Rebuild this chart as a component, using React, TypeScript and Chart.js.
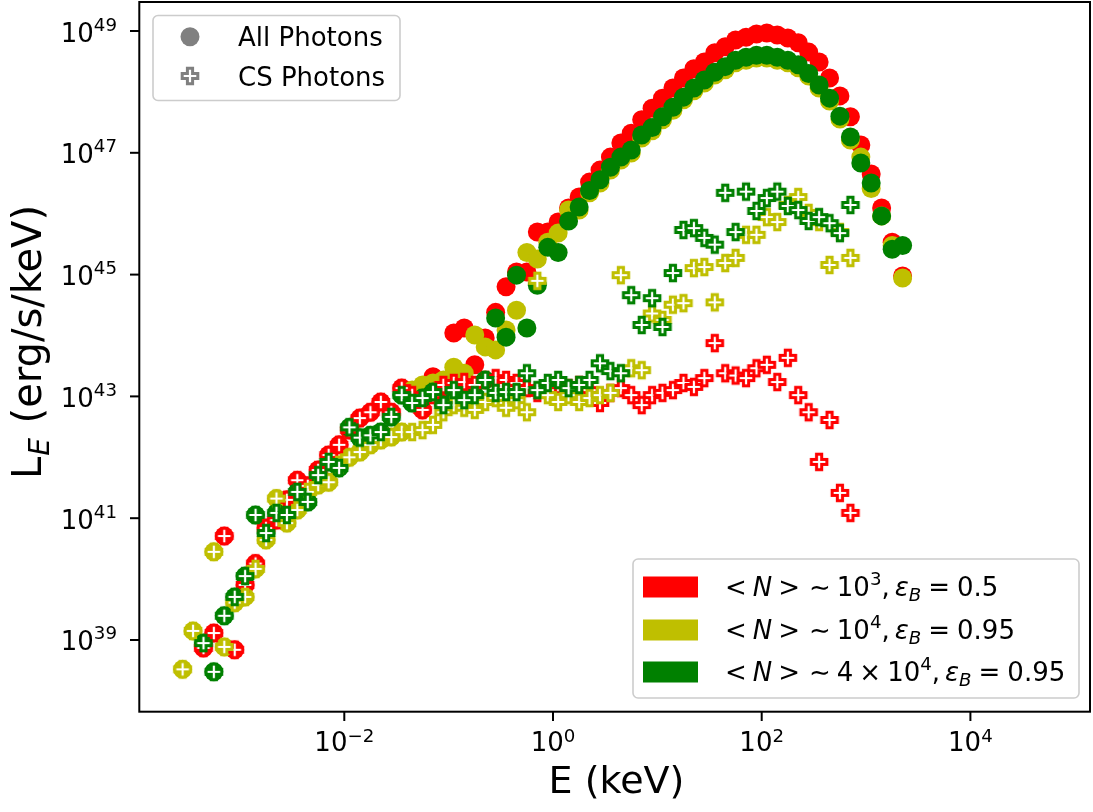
import React, { useEffect, useRef } from "react";
import { Chart, registerables } from "chart.js";

Chart.register(...registerables);

// ---------- data ----------
// photon energy bins in keV
const energyKeV = [
  2.82e-4, 3.55e-4, 4.47e-4, 5.62e-4, 7.08e-4, 8.91e-4,
  1.12e-3, 1.41e-3, 1.78e-3, 2.24e-3, 2.82e-3, 3.55e-3, 4.47e-3, 5.62e-3, 7.08e-3, 8.91e-3,
  1.12e-2, 1.41e-2, 1.78e-2, 2.24e-2, 2.82e-2, 3.55e-2, 4.47e-2, 5.62e-2, 7.08e-2, 8.91e-2,
  0.112, 0.141, 0.178, 0.224, 0.282, 0.355, 0.447, 0.562, 0.708, 0.891,
  1.12, 1.41, 1.78, 2.24, 2.82, 3.55, 4.47, 5.62, 7.08, 8.91,
  11.2, 14.1, 17.8, 22.4, 28.2, 35.5, 44.7, 56.2, 70.8, 89.1,
  112, 141, 178, 224, 282, 355, 447, 562, 708, 891,
  1120, 1410, 1780, 2240,
];

// <N> ~ 1e3, eps_B = 0.5  (red)
const allRed = [
  null, null, 7.4e38, 1.3e39, 5.1e40, 6.9e38,
  8.0e39, 1.8e40, 6.9e40, 9.3e40, 2.0e41, 4.2e41, 3.4e41, 6.2e41, 1.09e42, 1.6e42,
  2.8e42, 4.4e42, 5.5e42, 8.1e42, 5.5e42, 1.37e43, 1.05e43, 6.0e42, 2.1e43, 1.27e43,
  1.1e44, 1.33e44, 3.3e43, 9.1e43, 2.4e44, 6.3e44, 1.1e45, 1.1e45, 5.0e45, 5.0e45,
  7.3e45, 1.24e46, 1.88e46, 3.3e46, 5.2e46, 8.5e46, 1.45e47, 2.1e47, 3.5e47, 5.4e47,
  7.9e47, 1.16e48, 1.69e48, 2.4e48, 3.1e48, 4.4e48, 5.5e48, 7.1e48, 7.9e48, 8.9e48,
  9.3e48, 8.6e48, 7.7e48, 6.4e48, 4.5e48, 3.1e48, 1.69e48, 8.6e47, 3.9e47, 1.34e47,
  4.5e46, 1.24e46, 3.4e45, 9.5e44,
];
const csRed = [
  null, null, 7.4e38, 1.3e39, 5.1e40, 6.9e38,
  8.0e39, 1.8e40, 6.9e40, 9.3e40, 2.0e41, 4.2e41, 3.4e41, 6.2e41, 1.09e42, 1.6e42,
  2.8e42, 4.4e42, 5.5e42, 8.1e42, 5.5e42, 1.37e43, 1.05e43, 6.0e42, 1.05e43, 1.54e43,
  1.66e43, 1.72e43, 1.54e43, 1.86e43, 2.0e43, 1.86e43, 1.66e43, 1.37e43, 1.14e43, 1.27e43,
  1.54e43, 1.37e43, 1.54e43, 1.27e43, 7.8e42, 1.14e43, 1.37e43, 1.05e43, 7.2e42, 1.05e43,
  1.14e43, 1.27e43, 1.66e43, 1.43e43, 2.0e43, 7.5e43, 2.4e43, 2.2e43, 2.0e43, 2.9e43,
  3.3e43, 1.72e43, 4.3e43, 1.05e43, 5.5e42, 8.4e41, 4.1e42, 2.6e41, 1.22e41, null,
  null, null, null, null,
];

// <N> ~ 1e4, eps_B = 0.95  (yellow)
const allYellow = [
  3.3e38, 1.41e39, null, 2.8e40, 7.7e38, 4.1e39,
  5.1e39, 1.47e40, 4.4e40, 2.1e41, 8.3e40, 1.36e41, 2.7e41, 3.5e41, 3.9e41, 7.5e41,
  1.0e42, 1.22e42, 1.6e42, 1.92e42, 2.15e42, 2.6e42, 1.27e43, 1.54e43, 1.66e43, 1.86e43,
  3.0e43, 2.4e43, 1.02e44, 6.5e43, 5.8e43, 1.23e44, 2.6e44, 2.3e45, 1.8e45, 3.4e45,
  4.8e45, 1.15e46, 1.15e46, 2.2e46, 3.2e46, 5.2e46, 7.6e46, 9.9e46, 1.75e47, 2.3e47,
  3.5e47, 5.0e47, 7.4e47, 1.04e48, 1.4e48, 1.9e48, 2.3e48, 3.0e48, 3.3e48, 3.6e48,
  3.6e48, 3.3e48, 3.0e48, 2.5e48, 1.82e48, 1.16e48, 7.1e47, 3.6e47, 1.62e47, 8.5e46,
  2.6e46, 9.2e45, 3.0e45, 8.8e44,
];
const csYellow = [
  3.3e38, 1.41e39, null, 2.8e40, 7.7e38, 4.1e39,
  5.1e39, 1.47e40, 4.4e40, 2.1e41, 8.3e40, 1.36e41, 2.7e41, 3.5e41, 3.9e41, 7.5e41,
  1.0e42, 1.22e42, 1.6e42, 1.92e42, 2.15e42, 2.6e42, 2.6e42, 2.8e42, 3.4e42, 5.5e42,
  7.2e42, 6.5e42, 6.0e42, 8.1e42, 9.4e42, 6.5e42, 8.7e42, 5.5e42, 7.9e44, 1.05e43,
  8.1e42, 1.05e43, 8.1e42, 9.4e42, 1.05e43, 1.14e43, 9.8e44, 2.9e43, 2.7e43, 2.3e44,
  1.8e44, 3.2e44, 3.4e44, 1.28e45, 1.33e45, 3.5e44, 1.55e45, 1.88e45, 4.5e45, 4.5e45,
  8.8e45, 7.3e45, 1.39e46, 1.88e46, 1.03e46, 7.3e45, 1.44e45, 5.0e45, 1.88e45, null,
  null, null, null, null,
];

// <N> ~ 4e4, eps_B = 0.95  (green)
const allGreen = [
  null, null, 8.9e38, 3.0e38, 2.5e39, 5.1e39,
  1.12e40, 1.13e41, 5.7e40, 1.22e41, 1.13e41, 2.7e41, 1.85e41, 5.1e41, 8.4e41, 6.7e41,
  3.1e42, 2.1e42, 2.3e42, 2.6e42, 4.6e42, 1.05e43, 7.8e42, 9.4e42, 1.18e43, 7.2e42,
  1.27e43, 8.7e42, 1.05e43, 1.86e43, 1.94e44, 9.4e43, 9.8e44, 1.33e44, 6.7e44, 2.8e45,
  2.3e45, 7.6e45, 1.29e46, 2.4e46, 3.6e46, 5.8e46, 8.5e46, 1.11e47, 1.96e47, 2.6e47,
  3.9e47, 5.6e47, 8.2e47, 1.16e48, 1.57e48, 2.1e48, 2.6e48, 3.3e48, 3.7e48, 4.0e48,
  4.0e48, 3.7e48, 3.3e48, 2.8e48, 2.0e48, 1.3e48, 7.9e47, 4.0e47, 1.82e47, 6.8e46,
  3.2e46, 9.2e45, 2.6e45, 3.0e45,
];
const csGreen = [
  null, null, 8.9e38, 3.0e38, 2.5e39, 5.1e39,
  1.12e40, 1.13e41, 5.7e40, 1.22e41, 1.13e41, 2.7e41, 1.85e41, 5.1e41, 8.4e41, 6.7e41,
  3.1e42, 2.1e42, 2.3e42, 2.6e42, 4.6e42, 1.05e43, 7.8e42, 9.4e42, 1.18e43, 7.2e42,
  1.27e43, 8.7e42, 1.05e43, 1.86e43, 1.14e43, 1.18e43, 1.18e43, 2.4e43, 1.27e43, 1.66e43,
  1.86e43, 1.37e43, 1.54e43, 1.86e43, 3.5e43, 2.6e43, 2.4e43, 4.6e44, 1.49e44, 4.1e44,
  1.38e44, 1.06e45, 5.4e45, 5.8e45, 4.0e45, 3.1e45, 2.2e46, 5.0e45, 2.3e46, 1.11e46,
  1.81e46, 2.3e46, 1.34e46, 1.15e46, 7.6e45, 8.8e45, 7.0e45, 4.8e45, 1.39e46, null,
  null, null, null, null,
];

// axes
const xMin = 1.078e-4;
const xMax = 1.4e5;
const yMin = 6.57e37;
const yMax = 2.994e49;
const xTickValues = [1e-2, 1, 1e2, 1e4];
const xTickExponents = ["\u22122", "0", "2", "4"];
const yTickValues = [1e39, 1e41, 1e43, 1e45, 1e47, 1e49];
const yTickExponents = ["39", "41", "43", "45", "47", "49"];

const modelColors = ["#ff0000", "#bfbf00", "#008000"];
const legendMarkerColor = "#808080";

type Run = { t: string; s?: number; it?: boolean; dy?: number; gap?: number };

const modelLabels: Run[][] = [
  [
    { t: "<" }, { t: "N", it: true, gap: 6 }, { t: ">", gap: 6 }, { t: "\u223C", gap: 9 },
    { t: "10", gap: 6 }, { t: "3", s: 0.7, dy: -11 }, { t: "," }, { t: "\u03B5", it: true, gap: 5 },
    { t: "B", it: true, s: 0.7, dy: 5 }, { t: "=", gap: 7 }, { t: "0.5", gap: 7 },
  ],
  [
    { t: "<" }, { t: "N", it: true, gap: 6 }, { t: ">", gap: 6 }, { t: "\u223C", gap: 9 },
    { t: "10", gap: 6 }, { t: "4", s: 0.7, dy: -11 }, { t: "," }, { t: "\u03B5", it: true, gap: 5 },
    { t: "B", it: true, s: 0.7, dy: 5 }, { t: "=", gap: 7 }, { t: "0.95", gap: 7 },
  ],
  [
    { t: "<" }, { t: "N", it: true, gap: 6 }, { t: ">", gap: 6 }, { t: "\u223C", gap: 9 },
    { t: "4", gap: 6 }, { t: "\u00D7", gap: 6 }, { t: "10", gap: 6 }, { t: "4", s: 0.7, dy: -11 },
    { t: "," }, { t: "\u03B5", it: true, gap: 5 }, { t: "B", it: true, s: 0.7, dy: 5 },
    { t: "=", gap: 7 }, { t: "0.95", gap: 7 },
  ],
];
const markerLabels = ["All Photons", "CS Photons"];
const xTitle: Run[] = [{ t: "E (keV)" }];
const yTitle: Run[] = [{ t: "L" }, { t: "E", it: true, s: 0.7, dy: 8, gap: 1 }, { t: " (erg/s/keV)", gap: 2 }];

const FAMILY = "'DejaVu Sans', 'Liberation Sans', sans-serif";

function fontFor(r: Run, base: number) {
  const size = base * (r.s ?? 1);
  return `${r.it ? "italic " : ""}${size}px ${FAMILY}`;
}
function runsWidth(ctx: CanvasRenderingContext2D, runs: Run[], base: number) {
  let w = 0;
  for (const r of runs) {
    ctx.font = fontFor(r, base);
    w += (r.gap ?? 0) + ctx.measureText(r.t).width;
  }
  return w;
}
function drawRuns(ctx: CanvasRenderingContext2D, runs: Run[], x: number, y: number, base: number) {
  let cx = x;
  ctx.textAlign = "left";
  ctx.textBaseline = "alphabetic";
  for (const r of runs) {
    cx += r.gap ?? 0;
    ctx.font = fontFor(r, base);
    ctx.fillText(r.t, cx, y + (r.dy ?? 0));
    cx += ctx.measureText(r.t).width;
  }
}

function makePlus(color: string) {
  const size = 26;
  const c = document.createElement("canvas");
  c.width = size;
  c.height = size;
  const g = c.getContext("2d")!;
  const s = 7.8;
  const h = s / 3;
  const o = size / 2;
  const pts = [
    [-h, -s], [h, -s], [h, -h], [s, -h], [s, h], [h, h],
    [h, s], [-h, s], [-h, h], [-s, h], [-s, -h], [-h, -h],
  ];
  g.beginPath();
  pts.forEach(([px, py], i) => (i ? g.lineTo(o + px, o + py) : g.moveTo(o + px, o + py)));
  g.closePath();
  g.fillStyle = "#ffffff";
  g.fill();
  g.lineJoin = "miter";
  g.lineWidth = 3;
  g.strokeStyle = color;
  g.stroke();
  return c;
}

function roundRect(ctx: CanvasRenderingContext2D, x: number, y: number, w: number, h: number, r: number) {
  ctx.beginPath();
  ctx.moveTo(x + r, y);
  ctx.lineTo(x + w - r, y);
  ctx.arcTo(x + w, y, x + w, y + r, r);
  ctx.lineTo(x + w, y + h - r);
  ctx.arcTo(x + w, y + h, x + w - r, y + h, r);
  ctx.lineTo(x + r, y + h);
  ctx.arcTo(x, y + h, x, y + h - r, r);
  ctx.lineTo(x, y + r);
  ctx.arcTo(x, y, x + r, y, r);
  ctx.closePath();
}

function toPoints(values: (number | null)[]) {
  const pts: { x: number; y: number }[] = [];
  values.forEach((v, i) => {
    if (v !== null) pts.push({ x: energyKeV[i], y: v });
  });
  return pts;
}

export default function App() {
  const ref = useRef<HTMLCanvasElement | null>(null);

  useEffect(() => {
    const canvas = ref.current!;
    const plusImgs = modelColors.map((c) => makePlus(c));
    const grayPlus = makePlus(legendMarkerColor);

    const allSeries = [allRed, allYellow, allGreen];
    const csSeries = [csRed, csYellow, csGreen];

    const datasets: any[] = [];
    allSeries.forEach((s, i) => {
      datasets.push({
        label: `all-${i}`,
        data: toPoints(s),
        pointStyle: "circle",
        pointRadius: 9.5,
        pointBorderWidth: 0,
        backgroundColor: modelColors[i],
        borderColor: modelColors[i],
        showLine: false,
        order: 5 - i,
      });
    });
    csSeries.forEach((s, i) => {
      datasets.push({
        label: `cs-${i}`,
        data: toPoints(s),
        pointStyle: plusImgs[i],
        pointRadius: 9,
        showLine: false,
        order: 2 - i,
      });
    });

    const deco = {
      id: "mplDeco",
      afterDraw(chart: any) {
        const ctx: CanvasRenderingContext2D = chart.ctx;
        const a = chart.chartArea;
        const xs = chart.scales.x;
        const ys = chart.scales.y;
        ctx.save();
        ctx.fillStyle = "#000";
        ctx.strokeStyle = "#000";
        // spines
        ctx.lineWidth = 2;
        ctx.strokeRect(a.left + 0.3, a.top, a.right - a.left - 0.3, a.bottom - a.top - 0.3);
        // x ticks
        const tickBase = 26;
        xTickValues.forEach((v, i) => {
          const px = xs.getPixelForValue(v);
          ctx.beginPath();
          ctx.moveTo(px, a.bottom);
          ctx.lineTo(px, a.bottom + 9);
          ctx.stroke();
          const runs: Run[] = [{ t: "10" }, { t: xTickExponents[i], s: 0.7, dy: -9.5 }];
          const w = runsWidth(ctx, runs, tickBase);
          drawRuns(ctx, runs, px - w / 2, 751, tickBase);
        });
        // y ticks
        yTickValues.forEach((v, i) => {
          const py = ys.getPixelForValue(v);
          ctx.beginPath();
          ctx.moveTo(a.left, py);
          ctx.lineTo(a.left - 9, py);
          ctx.stroke();
          const runs: Run[] = [{ t: "10" }, { t: yTickExponents[i], s: 0.7, dy: -11 }];
          const w = runsWidth(ctx, runs, tickBase);
          drawRuns(ctx, runs, 117 - w, py + 10.5, tickBase);
        });
        // axis titles
        const wx = runsWidth(ctx, xTitle, 38);
        drawRuns(ctx, xTitle, (a.left + a.right) / 2 - wx / 2 + 2, 793, 38);
        ctx.save();
        ctx.translate(41, 342);
        ctx.rotate(-Math.PI / 2);
        const wy = runsWidth(ctx, yTitle, 40);
        drawRuns(ctx, yTitle, -wy / 2, 0, 40);
        ctx.restore();

        // legend 1 (marker types)
        ctx.fillStyle = "rgba(255,255,255,0.8)";
        roundRect(ctx, 153, 15.5, 247, 85, 5);
        ctx.fill();
        ctx.strokeStyle = "#cccccc";
        ctx.lineWidth = 1.6;
        ctx.stroke();
        ctx.fillStyle = legendMarkerColor;
        ctx.beginPath();
        ctx.arc(190, 36.7, 9.5, 0, Math.PI * 2);
        ctx.fill();
        ctx.drawImage(grayPlus, 190 - grayPlus.width / 2, 76 - grayPlus.height / 2);
        ctx.fillStyle = "#000";
        drawRuns(ctx, [{ t: markerLabels[0] }], 238, 45.7, 26);
        drawRuns(ctx, [{ t: markerLabels[1] }], 238, 85.5, 26);

        // legend 2 (models)
        ctx.fillStyle = "rgba(255,255,255,0.8)";
        roundRect(ctx, 633, 559, 446, 139, 5);
        ctx.fill();
        ctx.strokeStyle = "#cccccc";
        ctx.lineWidth = 1.6;
        ctx.stroke();
        const rowY = [587, 630, 672];
        modelLabels.forEach((runs, i) => {
          ctx.fillStyle = modelColors[i];
          ctx.fillRect(643, rowY[i] - 10.5, 55, 21);
          ctx.fillStyle = "#000";
          drawRuns(ctx, runs, 725, rowY[i] + 8.5, 26);
        });
        ctx.restore();
      },
    };

    const chart = new Chart(canvas, {
      type: "scatter",
      data: { datasets },
      options: {
        responsive: false,
        animation: false,
        events: [],
        layout: { autoPadding: false, padding: { left: 139, right: 3, top: 2, bottom: 100 } },
        plugins: { legend: { display: false }, tooltip: { enabled: false } },
        scales: {
          x: { type: "logarithmic", min: xMin, max: xMax, display: false },
          y: { type: "logarithmic", min: yMin, max: yMax, display: false },
        },
      },
      plugins: [deco],
    });
    return () => chart.destroy();
  }, []);

  return (
    <div style={{ position: "absolute", left: 0, top: 0, width: 1093, height: 812, background: "#fff" }}>
      <canvas ref={ref} width={1093} height={812} style={{ width: 1093, height: 812, display: "block" }} />
    </div>
  );
}
